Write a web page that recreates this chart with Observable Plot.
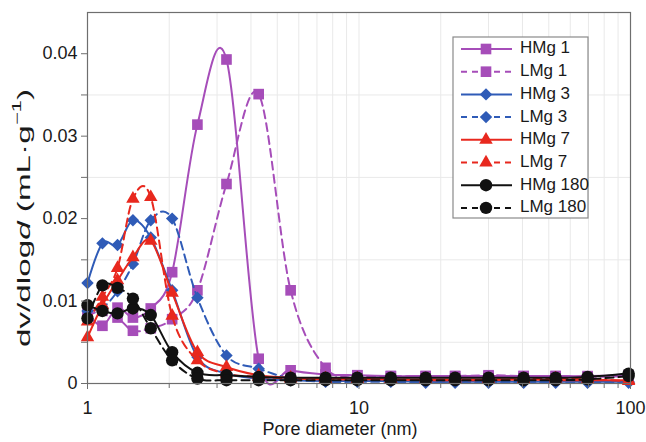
<!DOCTYPE html>
<html><head><meta charset="utf-8">
<script src="https://cdn.jsdelivr.net/npm/d3@7"></script>
<script src="https://cdn.jsdelivr.net/npm/@observablehq/plot@0.6"></script>
<style>
html,body{margin:0;padding:0;background:#fff;}
#chart{width:646px;height:442px;}
</style></head><body><div id="chart"></div>
<script>
// ---- data ----
const poreDiameter = [1.00, 1.135, 1.29, 1.47, 1.71, 2.05, 2.54, 3.25, 4.27, 5.60, 7.53, 9.86, 13.1, 17.6, 22.6, 30.0, 40.4, 53.0, 69.5, 98.4];
const seriesNames = ["HMg 1", "LMg 1", "HMg 3", "LMg 3", "HMg 7", "LMg 7", "HMg 180", "LMg 180"];
const HMg1   = [0.0085, 0.0070, 0.0092, 0.0080, 0.0091, 0.0135, 0.0314, 0.0393, 0.0030, 0.0016, 0.0011, 0.0010, 0.0009, 0.0009, 0.0009, 0.0009, 0.0009, 0.0009, 0.0009, 0.0010];
const LMg1   = [0.0082, 0.0088, 0.0080, 0.0064, 0.0067, 0.0078, 0.0113, 0.0242, 0.0351, 0.0113, 0.0019, 0.0010, 0.0009, 0.0009, 0.0009, 0.0010, 0.0009, 0.0009, 0.0008, 0.0009];
const HMg3   = [0.0122, 0.0170, 0.0168, 0.0198, 0.0177, 0.0113, 0.0032, 0.0012, 0.0006, 0.0004, 0.0003, 0.0003, 0.0003, 0.0002, 0.0002, 0.0002, 0.0002, 0.0002, 0.0002, 0.0002];
const LMg3   = [0.0088, 0.0092, 0.0112, 0.0145, 0.0198, 0.0200, 0.0104, 0.0034, 0.0018, 0.0006, 0.0002, 0.0002, 0.0002, 0.0001, 0.0001, 0.0001, 0.0001, 0.0001, 0.0001, 0.0001];
const HMg7   = [0.0056, 0.0095, 0.0125, 0.0153, 0.0173, 0.0110, 0.0038, 0.0020, 0.0010, 0.0007, 0.0006, 0.0006, 0.0005, 0.0005, 0.0005, 0.0005, 0.0005, 0.0004, 0.0004, 0.0004];
const LMg7   = [0.0075, 0.0105, 0.0140, 0.0224, 0.0226, 0.0082, 0.0028, 0.0012, 0.0008, 0.0006, 0.0005, 0.0005, 0.0005, 0.0004, 0.0004, 0.0004, 0.0005, 0.0006, 0.0005, 0.0003];
const HMg180 = [0.0095, 0.0088, 0.0085, 0.0091, 0.0083, 0.0038, 0.0013, 0.0010, 0.0008, 0.0007, 0.0007, 0.0007, 0.0007, 0.0007, 0.0007, 0.0007, 0.0007, 0.0007, 0.0008, 0.0012];
const LMg180 = [0.0079, 0.0119, 0.0116, 0.0103, 0.0067, 0.0028, 0.0006, 0.0004, 0.0004, 0.0004, 0.0004, 0.0004, 0.0004, 0.0004, 0.0004, 0.0004, 0.0004, 0.0004, 0.0005, 0.0009];
const seriesValues = [HMg1, LMg1, HMg3, LMg3, HMg7, LMg7, HMg180, LMg180];
const xTickLabels = [1, 10, 100];
const yTickLabels = [0, 0.01, 0.02, 0.03, 0.04];

// ---- styles ----
const colors  = ["#A64DB9", "#A64DB9", "#2F5BB7", "#2F5BB7", "#E8281E", "#E8281E", "#111111", "#111111"];
const dashed  = [false, true, false, true, false, true, false, true];
const symbols = [d3.symbolSquare, d3.symbolSquare, d3.symbolDiamond2, d3.symbolDiamond2, d3.symbolTriangle, d3.symbolTriangle, d3.symbolCircle, d3.symbolCircle];
const radii   = [6, 6, 5.6, 5.6, 5, 5, 6.2, 6.2];

const xMinor = [2,3,4,5,6,7,8,9,20,30,40,50,60,70,80,90];
const yMinor = [0.005, 0.015, 0.025, 0.035];
const FONT = "'Liberation Sans', Arial, sans-serif";

const rows = seriesNames.map((name, i) => poreDiameter.map((d, j) => ({series: name, x: d, y: seriesValues[i][j]})));

const seriesMarks = seriesNames.flatMap((name, i) => [
  Plot.line(rows[i], {x: "x", y: "y", stroke: colors[i], strokeWidth: 2,
    strokeDasharray: dashed[i] ? "8,5" : null, curve: "cardinal"}),
  Plot.dot(rows[i], {x: "x", y: "y", symbol: symbols[i], fill: colors[i], r: radii[i], stroke: "none"})
]);

const svg = Plot.plot({
  width: 646, height: 442,
  marginLeft: 87, marginRight: 16, marginTop: 12, marginBottom: 59,
  style: {fontFamily: FONT, fontSize: "18px", color: "#1a1a1a", background: "#fff"},
  x: {type: "log", domain: [1, 100]},
  y: {domain: [0, 0.045]},
  marks: [
    Plot.gridX([...xMinor, 10], {stroke: "#e9e9e9", strokeOpacity: 1, strokeWidth: 1}),
    Plot.gridY(yMinor, {stroke: "#e9e9e9", strokeOpacity: 1, strokeWidth: 1}),
    ...seriesMarks,
    Plot.frame({stroke: "#6e6e6e", strokeWidth: 1.2}),
    Plot.axisX(xTickLabels, {tickSize: 6, tickPadding: 12, tickFormat: d => String(d), stroke: "#6e6e6e", label: null, fontSize: 18}),
    Plot.axisX(xMinor, {tickSize: 5, tickFormat: () => "", stroke: "#6e6e6e", label: null}),
    Plot.axisY(yTickLabels, {tickSize: 6, tickPadding: 4, tickFormat: d => String(d), stroke: "#6e6e6e", label: null, fontSize: 18}),
    Plot.axisY(yMinor, {tickSize: 6, tickFormat: () => "", stroke: "#6e6e6e", label: null})
  ]
});
document.getElementById("chart").appendChild(svg);

const s = d3.select(svg);
// axis titles
s.append("text").attr("x", 340).attr("y", 430).attr("text-anchor", "middle")
  .attr("dominant-baseline", "middle").style("font-family", FONT).style("font-size", "18px")
  .attr("fill", "#1a1a1a").text("Pore diameter (nm)");
const yl = s.append("text").attr("transform", "translate(25,218) rotate(-90)")
  .attr("text-anchor", "middle").attr("dominant-baseline", "middle")
  .style("font-family", FONT).style("font-size", "18px").attr("fill", "#1a1a1a")
  .attr("textLength", 258).attr("lengthAdjust", "spacingAndGlyphs");
yl.append("tspan").text("dv/dlog");
yl.append("tspan").style("font-style", "italic").text("d");
yl.append("tspan").text(" (mL·g");
yl.append("tspan").attr("baseline-shift", "super").style("font-size", "12px").text("−1");
yl.append("tspan").text(")");

// legend
const lg = s.append("g");
lg.append("rect").attr("x", 453).attr("y", 37).attr("width", 135).attr("height", 181)
  .attr("fill", "#fff").attr("stroke", "#8a8a8a").attr("stroke-width", 1.2);
seriesNames.forEach((name, i) => {
  const y = 49 + i * 22.7;
  lg.append("line").attr("x1", 461).attr("x2", 512).attr("y1", y).attr("y2", y)
    .attr("stroke", colors[i]).attr("stroke-width", 2)
    .attr("stroke-dasharray", dashed[i] ? "6,5" : null);
  lg.append("path").attr("transform", `translate(486,${y})`)
    .attr("d", d3.symbol(symbols[i], Math.PI * radii[i] * radii[i])()).attr("fill", colors[i]);
  lg.append("text").attr("x", 520).attr("y", y).attr("text-anchor", "start").attr("dominant-baseline", "middle")
    .style("font-family", FONT).style("font-size", "17px").attr("fill", "#1a1a1a").text(name);
});
</script>
</body></html>
